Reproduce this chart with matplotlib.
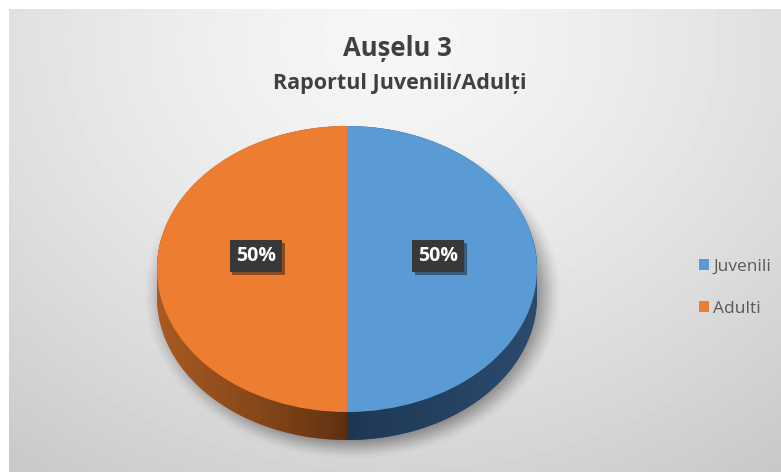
import numpy as np
import matplotlib.pyplot as plt
from matplotlib.patches import Polygon
from matplotlib.colors import to_rgb
import matplotlib.patheffects as pe

plt.rcParams['font.family'] = ['Open Sans', 'DejaVu Sans']

titlu = 'Aușelu 3'
subtitlu = 'Raportul Juvenili/Adulți'
categorii = ['Juvenili', 'Adulti']
valori = [50, 50]
culori = ['#5B9BD5', '#ED7D31']
# culoarea laterala a feliei: (spre centru, spre margine)
culori_lateral = [('#1d3652', '#2b4a6c'), ('#5c2f0f', '#a85a22')]

W, H = 781, 472
fig = plt.figure(figsize=(W / 100, H / 100), dpi=100, facecolor='white')

# fundal cu gradient radial
bg = fig.add_axes([0, 0, 1, 1])
yy, xx = np.mgrid[9:H, 9:W]
d = np.sqrt(((xx - 390) / 560) ** 2 + ((yy - 40) / 470) ** 2)
g = np.clip(0.965 - 0.15 * d ** 1.4, 0, 1)
bg.imshow(g, cmap='gray', vmin=0, vmax=1, extent=(9, W, H, 9), interpolation='bilinear')

# umbra de sub grafic
r = np.sqrt(((xx - 352) / 199) ** 2 + ((yy - 293) / 158) ** 2)
t = np.clip((r - 0.88) / 0.18, 0, 1)
umbra = np.zeros(r.shape + (4,))
umbra[..., 3] = 0.42 * (1 - t * t * (3 - 2 * t))
bg.imshow(umbra, extent=(9, W, H, 9), interpolation='bilinear')
bg.set_xlim(0, W)
bg.set_ylim(H, 0)
bg.set_aspect('auto')
bg.axis('off')


def puncte(path, n=40):
    # esantioneaza conturul (inclusiv curbele Bezier)
    out = []
    for seg, _ in path.iter_bezier():
        out.append(seg(np.linspace(0, 1, n)))
    return np.vstack(out)


def hull(pts):
    pts = sorted(set(map(tuple, np.round(pts, 6))))
    def cross(o, a, b):
        return (a[0] - o[0]) * (b[1] - o[1]) - (a[1] - o[1]) * (b[0] - o[0])
    lo, up = [], []
    for p in pts:
        while len(lo) >= 2 and cross(lo[-2], lo[-1], p) <= 0:
            lo.pop()
        lo.append(p)
    for p in reversed(pts):
        while len(up) >= 2 and cross(up[-2], up[-1], p) <= 0:
            up.pop()
        up.append(p)
    return np.array(lo[:-1] + up[:-1])


# placinta 3D: fata de sus + grosime
ry_px, adancime_px = 143, 28
ax = fig.add_axes([157 / W, (H - 440) / H, 380 / W, (2 * ry_px + adancime_px) / H])
wedges, _, autotexts = ax.pie(valori, colors=culori, startangle=90, counterclock=False,
                              autopct='%1.0f%%', pctdistance=0.48,
                              wedgeprops=dict(linewidth=0),
                              textprops=dict(color='white', fontsize=14, fontweight='bold'))
adancime = adancime_px / ry_px
y_jos = 1 - (2 * ry_px + adancime_px) / ry_px

for w, (c_in, c_out) in zip(wedges, culori_lateral):
    w.set_zorder(3)
    v = puncte(w.get_patch_transform().transform_path(w.get_path()))
    lateral = hull(np.vstack([v, v - [0, adancime]]))
    poly = Polygon(lateral, closed=True, facecolor=c_out, edgecolor='none', zorder=1)
    ax.add_patch(poly)
    xs = np.linspace(-1, 1, 200)
    f = np.abs(xs)[None, :, None]
    a = np.array(to_rgb(c_in))
    b = np.array(to_rgb(c_out))
    grad = np.repeat(a + (b - a) * f ** 0.8, 2, axis=0)
    im = ax.imshow(grad, extent=(-1, 1, y_jos, 0.2), zorder=2, interpolation='bilinear')
    im.set_clip_path(poly)

for t in autotexts:
    x, y = t.get_position()
    t.set_position((x, y + 0.09))
    t.set_zorder(5)
    t.set_bbox(dict(boxstyle='square,pad=0.32', facecolor='#383838', edgecolor='none'))
    t.get_bbox_patch().set_path_effects([pe.SimplePatchShadow(offset=(2, -2), alpha=0.45), pe.Normal()])

ax.set_aspect('auto')
ax.set_xlim(-1, 1)
ax.set_ylim(y_jos, 1)
ax.axis('off')

fig.text(397 / W, 1 - 48 / H, titlu, ha='center', va='center', fontsize=18.5,
         fontweight='bold', color='#404040')
fig.text(400 / W, 1 - 83 / H, subtitlu, ha='center', va='center', fontsize=15.5,
         fontweight='bold', color='#404040')

fig.legend(wedges, categorii, loc='center left', bbox_to_anchor=(683 / W, 1 - 288 / H),
           frameon=False, handlelength=0.6, handleheight=0.6, handletextpad=0.25,
           labelspacing=1.5, fontsize=12.5, labelcolor='#595959')

fig.savefig('out.png', dpi=100)
